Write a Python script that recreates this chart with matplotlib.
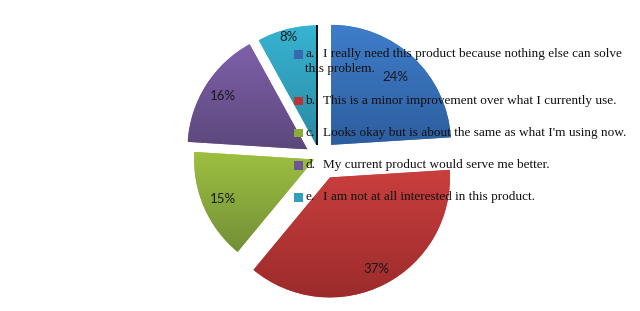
import matplotlib
matplotlib.use("Agg")
import matplotlib.pyplot as plt
import numpy as np
from matplotlib.colors import LinearSegmentedColormap
from matplotlib.patches import Rectangle

# ---- data ----
letters = ["a.", "b.", "c.", "d.", "e."]
labels = [
    "I really need this product because nothing else can solve",
    "This is a minor improvement over what I currently use.",
    "Looks okay but is about the same as what I'm using now.",
    "My current product would serve me better.",
    "I am not at all interested in this product.",
]
label_cont = ["this problem.", "", "", "", ""]
values = [24, 37, 15, 16, 8]

# ---- style ----
top_colors = ["#3f7dca", "#c93f3e", "#9dc040", "#7f60ab", "#37b4d2"]
bot_colors = ["#2d5e9f", "#9c2b2b", "#738f38", "#5c487c", "#2a8aa5"]
marker_colors = ["#3669b0", "#b83636", "#8aab3c", "#6d5494", "#2f9fbd"]
explode_frac = [0.14, 0.19, 0.05, 0.12, 0.10]
pct_dist = [0.78, 0.86, 0.83, 0.83, 0.93]

W, H = 640, 311
fig = plt.figure(figsize=(W / 100, H / 100), dpi=100)
ax = fig.add_axes([0, 0, 1, 1])

R = 120
cx, cy = 319.6, H - 157.1
wedges, texts, autotexts = ax.pie(
    values, explode=[e * R for e in explode_frac], startangle=90, counterclock=False,
    radius=R, center=(cx, cy), colors=top_colors,
    autopct=lambda p: f"{p:.0f}%", pctdistance=0.83,
    wedgeprops=dict(linewidth=0, edgecolor="none"),
    textprops=dict(fontsize=9.5, family="Lato", color="#1a1a1a"),
    frame=True,
)

# vertical gradients clipped to each wedge
grad = np.linspace(0, 1, 256).reshape(-1, 1)
for w, tc, bc in zip(wedges, top_colors, bot_colors):
    cmap = LinearSegmentedColormap.from_list("g", [bc, tc])
    path = w.get_path().transformed(w.get_patch_transform())
    verts = path.vertices
    x0, x1 = verts[:, 0].min(), verts[:, 0].max()
    y0, y1 = verts[:, 1].min(), verts[:, 1].max()
    im = ax.imshow(grad, cmap=cmap, extent=(x0, x1, y0, y1), origin="lower",
                   aspect="auto", zorder=w.get_zorder() + 0.1, interpolation="bilinear")
    im.set_clip_path(w)

# percentage label positions (per wedge distance)
for w, t, pd in zip(wedges, autotexts, pct_dist):
    mid = np.deg2rad(0.5 * (w.theta1 + w.theta2))
    wx, wy = w.center
    t.set_position((wx + pd * w.r * np.cos(mid), wy + pd * w.r * np.sin(mid)))
    t.set_zorder(5)

# dark side edge on the small cyan slice (3-D look of the original)
we = wedges[4]
a = np.deg2rad(we.theta1)
ex, ey = we.center
ax.plot([ex, ex + we.r * np.cos(a)], [ey, ey + we.r * np.sin(a)],
        color="black", lw=1.3, zorder=4, solid_capstyle="butt")

ax.set_xlim(0, W)
ax.set_ylim(0, H)
ax.set_aspect("equal")
ax.axis("off")

# ---- legend (drawn over the pie, as in the reference) ----
row_y = [54, 101, 133, 165, 197]
fs = 9.5
for i, (let, lab, cont) in enumerate(zip(letters, labels, label_cont)):
    y = row_y[i]
    fy = 1 - y / H
    fig.patches.append(Rectangle((294 / W, fy - 4.5 / H), 8.5 / W, 8.5 / H,
                                 transform=fig.transFigure, facecolor=marker_colors[i],
                                 edgecolor="none", zorder=6))
    fig.text(305 / W, fy, let, fontsize=fs, family="Liberation Serif",
             va="center", ha="left", color="#111111", zorder=7)
    fig.text(323 / W, fy, lab, fontsize=fs, family="Liberation Serif",
             va="center", ha="left", color="#111111", zorder=7)
    if cont:
        fig.text(305 / W, fy - 15 / H, cont, fontsize=fs, family="Liberation Serif",
                 va="center", ha="left", color="#111111", zorder=7)

fig.savefig("out.png", dpi=100, facecolor="white")
